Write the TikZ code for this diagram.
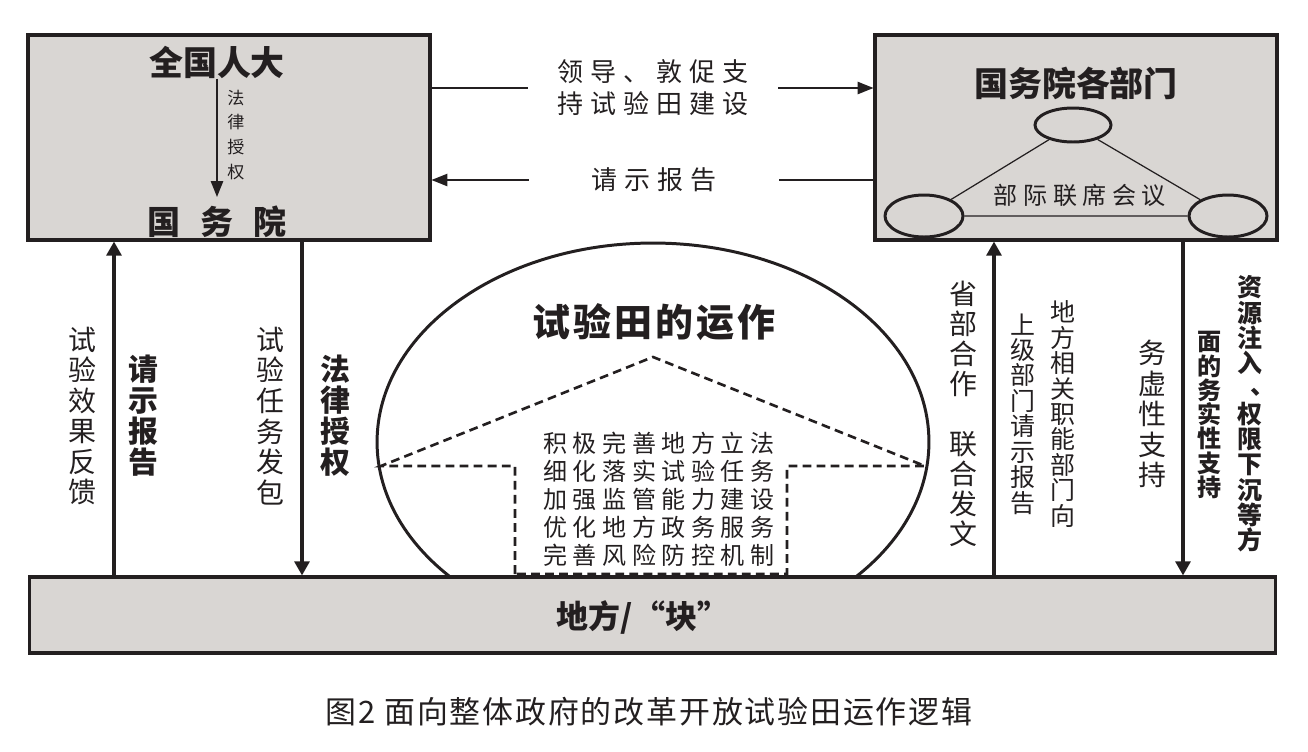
\documentclass[tikz,border=0pt]{standalone}
\usepackage{fontspec}
\setmainfont{Noto Sans CJK SC}
\usetikzlibrary{arrows.meta,shapes.geometric}
\definecolor{boxgray}{HTML}{D9D6D3}
\definecolor{ink}{HTML}{231F20}
\newcommand\fsz[2]{\fontsize{#1}{#2}\selectfont}
\tikzset{
  panel/.style={draw=ink, line width=1.8pt, fill=boxgray, inner sep=0pt},
  arr/.style={draw=ink, line width=1.8pt, -{Triangle[length=8pt,width=8.5pt]}},
  thinarr/.style={draw=ink, line width=0.85pt, -{Triangle[length=9pt,width=7pt]}},
  thinline/.style={draw=ink, line width=0.85pt},
  meeting/.style={ellipse, draw=ink, line width=1.7pt, fill=boxgray, inner sep=0pt},
  vlabel/.style={align=center, inner sep=0pt, text=ink},
  midlabel/.style={align=center, inner sep=0pt, text=ink, minimum width=5cm,
    font=\fsz{14.8pt}{18.2pt}\addfontfeature{LetterSpace=27}},
}
\begin{document}
\begin{tikzpicture}[x=0.02cm, y=-0.02cm]
        \useasboundingbox (0,0) rectangle (1308,751);

        \node[panel, minimum width=8.04cm, minimum height=4.1cm] (npcbox) at (229,137.5) {}; %NPC box
        \node[panel, minimum width=8.04cm, minimum height=4.1cm] (deptbox) at (1076,137.5) {}; %departments box

        \node[text=ink, inner sep=0pt, font=\fsz{19.3pt}{20pt}\bfseries] (npc) at (217,62) {全国人大};
        \node[text=ink, inner sep=0pt, font=\fsz{18.8pt}{20pt}\bfseries] (gwy) at (217,222) {国\hspace{0.6em}务\hspace{0.6em}院};
        \draw[thinarr, shorten >=5pt] (npc) -- (gwy);
        \node[vlabel, font=\fsz{9.7pt}{14.2pt}] (auth) at (236,135) {法\\律\\授\\权};

        \node[text=ink, inner sep=0pt, font=\fsz{19.3pt}{20pt}\bfseries] (dept) at (1076,83) {国务院各部门};
        \node[meeting, minimum width=1.52cm, minimum height=0.68cm] (m1) at (1073,125) {}; %top
        \node[meeting, minimum width=1.56cm, minimum height=0.84cm] (m2) at (924,216) {}; %left
        \node[meeting, minimum width=1.56cm, minimum height=0.84cm] (m3) at (1228,216) {}; %right
        \draw[ink, line width=0.7pt] (m1) -- (m2) (m1) -- (m3) (m2) -- (m3);
        \node[text=ink, inner sep=0pt, font=\fsz{13.7pt}{14pt}\addfontfeature{LetterSpace=23}] (jlh) at (1080,195) {部际联席会议};

        \node[midlabel] (lead) at (653,88) {领导、敦促支\\持试验田建设};
        \draw[thinline] (npcbox.east |- lead) -- (lead.west);
        \draw[thinarr] (lead.east) -- (deptbox.west |- lead);
        \node[midlabel] (ask) at (654,180) {请示报告};
        \draw[thinarr] (ask.west) -- (npcbox.east |- ask);
        \draw[thinline] (ask.east) -- (deptbox.west |- ask);

        % field of the pilot zone
        \node[ellipse, draw=ink, line width=1.7pt, inner sep=0pt, minimum width=11.04cm, minimum height=7.96cm] (field) at (653,442) {};
        \draw[ink, line width=1.5pt, dash pattern=on 5pt off 3pt] (515,574) -- (515,466) -- (381,466) -- (653,357) -- (925,466) -- (787,466) -- (787,574) -- cycle;
        \node[text=ink, inner sep=0pt, font=\fsz{21.6pt}{22pt}\bfseries\addfontfeature{LetterSpace=8}] (fieldtitle) at (654,322) {试验田的运作};
        \node[vlabel, font=\fsz{13.7pt}{15.9pt}\addfontfeature{LetterSpace=23}] (tasks) at (659,499) {积极完善地方立法\\细化落实试验任务\\加强监管能力建设\\优化地方政务服务\\完善风险防控机制};

        \node[panel, minimum width=24.94cm, minimum height=1.52cm] (local) at (652.5,615) {}; %local
        \node[text=ink, inner sep=0pt, font=\fsz{18.2pt}{20pt}\bfseries] (localtxt) at (643,617) {地方/“块”};

        \coordinate (up1) at (114,0);
        \coordinate (dn1) at (302,0);
        \coordinate (up2) at (994,0);
        \coordinate (dn2) at (1183,0);
        \draw[arr] (up1 |- local.north) -- (up1 |- npcbox.south);
        \draw[arr] (dn1 |- npcbox.south) -- (dn1 |- local.north);
        \draw[arr] (up2 |- local.north) -- (up2 |- deptbox.south);
        \draw[arr] (dn2 |- deptbox.south) -- (dn2 |- local.north);

        \node[vlabel, font=\fsz{15.9pt}{17.4pt}] (fb) at (82,416) {试\\验\\效\\果\\反\\馈};
        \node[vlabel, font=\fsz{17pt}{17.6pt}\bfseries] (rep) at (143,416) {请\\示\\报\\告};
        \node[vlabel, font=\fsz{15.9pt}{17.4pt}] (task) at (270,416) {试\\验\\任\\务\\发\\包};
        \node[vlabel, font=\fsz{17pt}{17.6pt}\bfseries] (law) at (335,416) {法\\律\\授\\权};

        \node[vlabel, font=\fsz{15.9pt}{17.1pt}] (coop) at (963,414) {省\\部\\合\\作\\[17pt]联\\合\\发\\文};
        \node[vlabel, font=\fsz{14.2pt}{14.5pt}] (up) at (1023,414) {上\\级\\部\\门\\请\\示\\报\\告};
        \node[vlabel, font=\fsz{14.2pt}{14.5pt}] (func) at (1063,414) {地\\方\\相\\关\\职\\能\\部\\门\\向};
        \node[vlabel, font=\fsz{15.9pt}{17.4pt}] (soft) at (1152,414) {务\\虚\\性\\支\\持};
        \node[vlabel, font=\fsz{13.7pt}{13.8pt}\bfseries] (hard) at (1210,415) {面\\的\\务\\实\\性\\支\\持};
        \node[vlabel, font=\fsz{14.2pt}{14.4pt}\bfseries] (res) at (1250,414) {资\\源\\注\\入\\\raisebox{0.15em}{\hspace*{1em}、}\\权\\限\\下\\沉\\等\\方};

        \node[text=ink, inner sep=0pt, font=\fsz{17.6pt}{18pt}\addfontfeature{LetterSpace=6}] (caption) at (649,712) {图2 面向整体政府的改革开放试验田运作逻辑};
    \end{tikzpicture}
\end{document}
